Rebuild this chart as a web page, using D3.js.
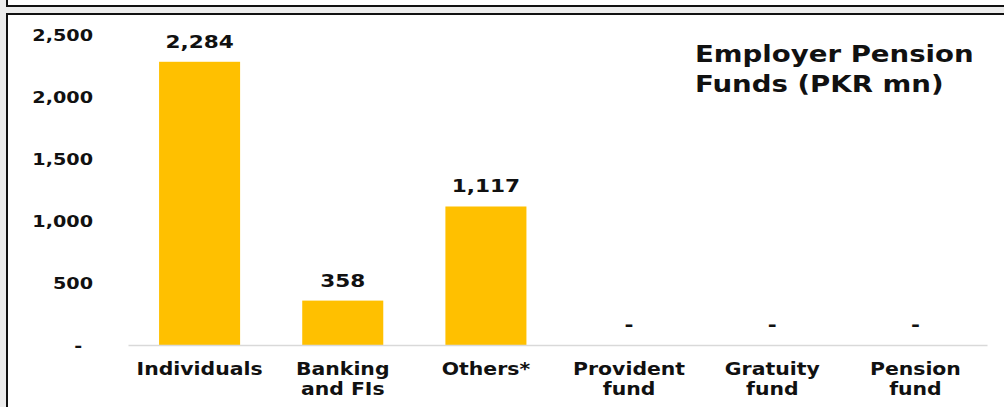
<!DOCTYPE html>
<html>
<head>
<meta charset="utf-8">
<script src="https://cdn.jsdelivr.net/npm/d3@7"></script>
<style>
  html, body { margin: 0; padding: 0; background: #ececec; }
  svg { display: block; }
  text { font-family: "DejaVu Sans", Verdana, sans-serif; font-weight: bold; fill: #111; }
</style>
</head>
<body>
<svg id="chart" width="1004" height="407"></svg>
<script>
const categories = ["Individuals", "Banking and FIs", "Others*", "Provident fund", "Gratuity fund", "Pension fund"];
const values = [2284, 358, 1117, 0, 0, 0];
const yTicks = [0, 500, 1000, 1500, 2000, 2500];
const titleLines = ["Employer Pension", "Funds (PKR mn)"];

const W = 1004, H = 407;
const SX = 1.2; // horizontal stretch of the original text
const svg = d3.select("#chart");

// frame: top strip and main box
svg.append("rect").attr("x", 7).attr("y", -2).attr("width", W).attr("height", 8)
  .attr("fill", "#fff").attr("stroke", "#111").attr("stroke-width", 2);
svg.append("rect").attr("x", 7).attr("y", 14).attr("width", W).attr("height", H)
  .attr("fill", "#fff").attr("stroke", "#111").attr("stroke-width", 2);

const x = d3.scaleBand().domain(categories).range([128, 987])
  .paddingInner(0.434).paddingOuter(0.217);
const y = d3.scaleLinear().domain([0, 2500]).range([345, 35]);

// y axis
const yAxis = svg.append("g").attr("transform", "translate(93,0)")
  .call(d3.axisLeft(y).tickValues(yTicks).tickSize(0).tickPadding(0)
    .tickFormat(d => d === 0 ? "-" : d3.format(",")(d)));
yAxis.select(".domain").remove();
yAxis.selectAll("text")
  .attr("font-size", 16).attr("font-family", null).attr("fill", "#111")
  .attr("transform", `scale(${SX},1)`)
  .attr("dy", "0.36em")
  .attr("x", d => d === 0 ? -9 : 0);

// bars
svg.append("g").selectAll("rect").data(values).join("rect")
  .attr("x", (d, i) => x(categories[i]))
  .attr("width", x.bandwidth())
  .attr("y", d => y(d))
  .attr("height", d => y(0) - y(d))
  .attr("fill", "#FFC000");

// x axis
const xAxis = svg.append("g").attr("transform", `translate(0,${y(0)})`)
  .call(d3.axisBottom(x).tickSize(0).tickSizeOuter(0).tickFormat(""));
xAxis.select(".domain").attr("stroke", "#d9d9d9").attr("stroke-width", 1.5);

// category labels (two lines)
const cat = svg.append("g").selectAll("text").data(categories).join("text")
  .attr("text-anchor", "middle").attr("font-size", 17)
  .attr("transform", d => `translate(${x(d) + x.bandwidth() / 2},375) scale(${SX},1)`);
cat.each(function(d) {
  const idx = d.indexOf(" ");
  const lines = idx < 0 ? [d] : [d.slice(0, idx), d.slice(idx + 1)];
  d3.select(this).selectAll("tspan").data(lines).join("tspan")
    .attr("x", 0).attr("y", (l, i) => i * 20).text(l => l);
});

// value labels
svg.append("g").selectAll("text").data(values).join("text")
  .attr("text-anchor", "middle").attr("font-size", 18)
  .attr("transform", (d, i) => `translate(${x(categories[i]) + x.bandwidth() / 2},${y(d) - 14}) scale(${SX},1)`)
  .text(d => d === 0 ? "-" : d3.format(",")(d));

// title
svg.append("text").attr("font-size", 23)
  .attr("transform", `translate(695,62) scale(${SX},1)`)
  .selectAll("tspan").data(titleLines).join("tspan")
  .attr("x", 0).attr("y", (d, i) => i * 30).text(d => d);
</script>
</body>
</html>
